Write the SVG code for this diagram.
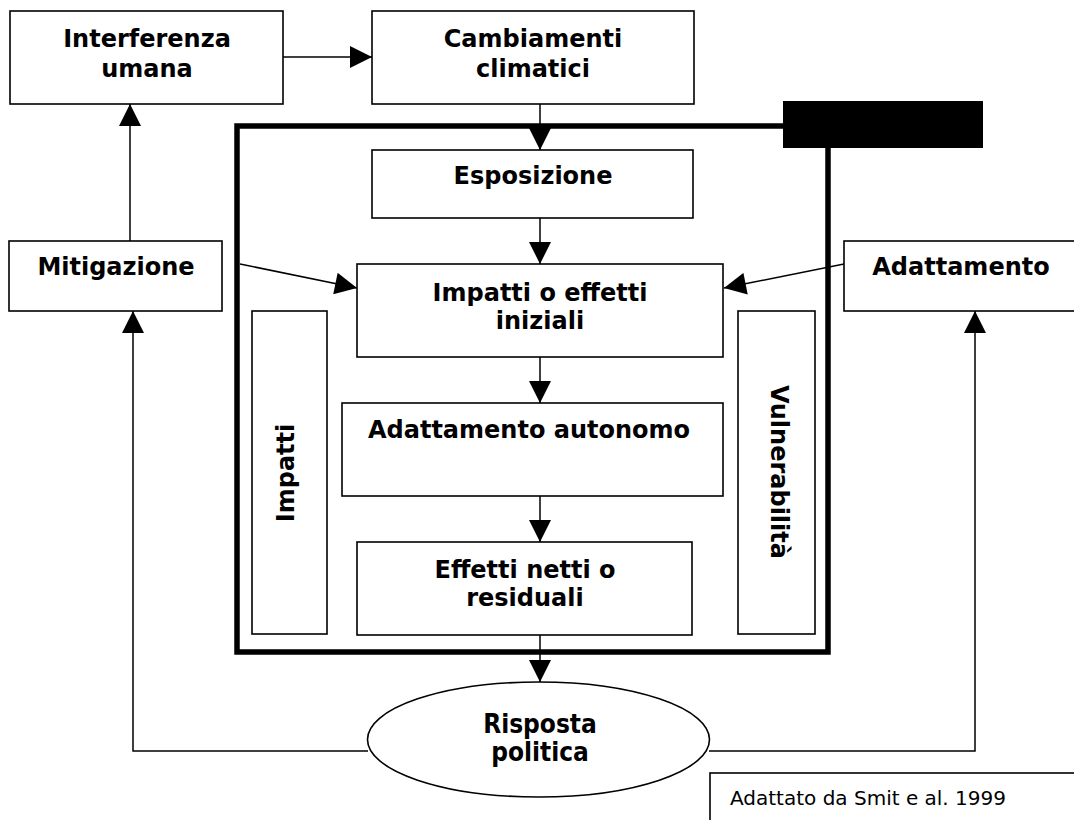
<svg xmlns="http://www.w3.org/2000/svg" width="1074" height="820" viewBox="0 0 1074 820">
<style>
.box{fill:#fff;stroke:#000;stroke-width:1.6}
.t{font-family:"DejaVu Sans",Verdana,sans-serif;font-weight:bold;font-size:24px;text-anchor:middle;fill:#000}
.tc{font-family:"DejaVu Sans Condensed","DejaVu Sans",sans-serif;font-weight:bold;font-size:26px;text-anchor:middle;fill:#000}
.n{font-family:"DejaVu Sans",Verdana,sans-serif;font-size:20px;fill:#000}
.c{fill:none;stroke:#000;stroke-width:1.5}
</style>
<defs>
<marker id="ah" viewBox="0 0 10 10" refX="10" refY="5" markerWidth="24" markerHeight="22" markerUnits="userSpaceOnUse" orient="auto">
<path d="M0,0 L10,5 L0,10 z" fill="#000"/>
</marker>
</defs>
<g id="frame">
<rect x="237" y="126" width="591" height="526" fill="none" stroke="#000" stroke-width="5.5"/>
<rect x="783" y="101" width="200" height="47" fill="#000"/>
</g>
<g id="connectors">
<line class="c" x1="283" y1="57" x2="372" y2="57" marker-end="url(#ah)"/>
<line class="c" x1="540" y1="104" x2="540" y2="150" marker-end="url(#ah)"/>
<line class="c" x1="540" y1="218" x2="540" y2="264" marker-end="url(#ah)"/>
<line class="c" x1="540" y1="357" x2="540" y2="403" marker-end="url(#ah)"/>
<line class="c" x1="540" y1="496" x2="540" y2="542" marker-end="url(#ah)"/>
<line class="c" x1="540" y1="635" x2="540" y2="682" marker-end="url(#ah)"/>
<line class="c" x1="130" y1="241" x2="130" y2="104" marker-end="url(#ah)"/>
<line class="c" x1="240" y1="264" x2="357" y2="288" marker-end="url(#ah)"/>
<line class="c" x1="844" y1="264" x2="724" y2="288" marker-end="url(#ah)"/>
<polyline class="c" points="368,751 133,751 133,311" marker-end="url(#ah)"/>
<polyline class="c" points="709,751 975,751 975,311" marker-end="url(#ah)"/>
</g>
<g id="interferenza">
<rect class="box" x="10" y="11" width="273" height="93"/>
<text class="t" x="147" y="47">Interferenza</text>
<text class="t" x="147" y="77">umana</text>
</g>
<g id="cambiamenti">
<rect class="box" x="372" y="11" width="322" height="93"/>
<text class="t" x="533" y="47">Cambiamenti</text>
<text class="t" x="533" y="77">climatici</text>
</g>
<g id="esposizione">
<rect class="box" x="372" y="150" width="321" height="68"/>
<text class="t" x="533" y="184">Esposizione</text>
</g>
<g id="mitigazione">
<rect class="box" x="9" y="241" width="213" height="70"/>
<text class="t" x="116" y="275">Mitigazione</text>
</g>
<g id="adattamento">
<rect class="box" x="844" y="241" width="240" height="70"/>
<text class="t" x="961" y="275">Adattamento</text>
</g>
<g id="impatti-iniziali">
<rect class="box" x="357" y="264" width="366" height="93"/>
<text class="t" x="540" y="301">Impatti o effetti</text>
<text class="t" x="540" y="329">iniziali</text>
</g>
<g id="impatti">
<rect class="box" x="252" y="311" width="75" height="323"/>
<text class="t" transform="translate(294,473) rotate(-90)">Impatti</text>
</g>
<g id="vulnerabilita">
<rect class="box" x="738" y="311" width="77" height="323"/>
<text class="t" transform="translate(771,472) rotate(90)">Vulnerabilità</text>
</g>
<g id="adattamento-autonomo">
<rect class="box" x="342" y="403" width="381" height="93"/>
<text class="t" x="529" y="438">Adattamento autonomo</text>
</g>
<g id="effetti-netti">
<rect class="box" x="357" y="542" width="335" height="93"/>
<text class="t" x="525" y="578">Effetti netti o</text>
<text class="t" x="525" y="606">residuali</text>
</g>
<g id="risposta">
<ellipse class="box" cx="538.5" cy="739.5" rx="171" ry="57.5"/>
<text class="tc" x="540" y="733">Risposta</text>
<text class="tc" x="540" y="761">politica</text>
</g>
<g id="fonte">
<rect class="box" x="710" y="773" width="380" height="60"/>
<text class="n" x="730" y="805">Adattato da Smit e al. 1999</text>
</g>
</svg>
